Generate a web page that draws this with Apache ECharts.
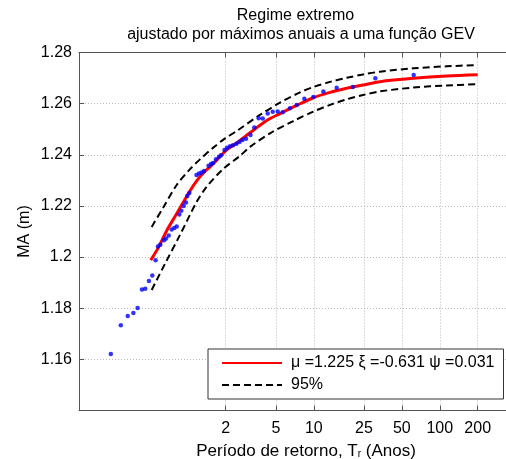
<!DOCTYPE html>
<html><head><meta charset="utf-8">
<script src="https://cdn.jsdelivr.net/npm/echarts@6/dist/echarts.min.js"></script>
<style>html,body{margin:0;padding:0;background:#fff}#c{width:506px;height:459px}</style>
</head><body><div id="c"></div>
<script>
// Observed annual maxima: return period T (years) and MA (m)
const obsT = [0.245,0.294,0.334,0.370,0.400,0.433,0.460,0.492,0.523,0.555,0.580,0.605,0.648,0.672,0.706,0.745,0.782,0.817,0.856,0.888,0.928,0.968,0.992,1.029,1.173,1.228,1.285,1.345,1.461,1.529,1.586,1.675,1.769,1.835,1.957,2.048,2.164,2.285,2.436,2.574,2.719,2.899,3.146,3.373,3.655,3.933,4.309,4.721,5.172,5.668,6.476,7.32,8.41,9.92,11.91,15.2,20.4,30.8,62.1];
const obsV = [1.1621,1.1733,1.1770,1.1781,1.1801,1.1873,1.1876,1.1906,1.1928,1.1988,1.2041,1.2048,1.2066,1.2073,1.2084,1.2108,1.2114,1.2120,1.2166,1.2181,1.2200,1.2213,1.2239,1.2251,1.2321,1.2327,1.2331,1.2337,1.2357,1.2364,1.2368,1.2383,1.2392,1.2398,1.2419,1.2428,1.2433,1.2437,1.2443,1.2450,1.2458,1.2463,1.2477,1.2507,1.2543,1.2542,1.2561,1.2568,1.2569,1.2566,1.2582,1.2595,1.2619,1.2626,1.2647,1.2662,1.2665,1.2699,1.2712];
// GEV fitted curve
const fitT = [0.508,0.584,0.680,0.792,0.916,1.042,1.184,1.329,1.501,1.697,2.037,2.298,2.598,3.118,4.232,5.396,7.32,9.92,13.45,18.25,24.6,33.5,61.7,113.5,200];
const fitV = [1.1988,1.2037,1.2103,1.2159,1.2212,1.2259,1.2300,1.2329,1.2353,1.2379,1.2419,1.2437,1.2456,1.2486,1.2534,1.2561,1.2593,1.2623,1.2644,1.2660,1.2673,1.2686,1.2699,1.2708,1.2713];
// 95% confidence bands
const upT = [0.517,0.639,0.817,1.042,1.250,1.594,1.975,2.445,3.743,5.396,7.778,9.92,13.45,18.25,24.6,33.5,61.7,113.5,200];
const upV = [1.2118,1.2194,1.2282,1.2344,1.2382,1.2428,1.2464,1.2493,1.2556,1.2604,1.2644,1.2665,1.2685,1.2701,1.2714,1.2725,1.2738,1.2746,1.2751];
const loT = [0.517,0.660,0.868,1.177,1.413,1.914,2.598,3.118,4.494,6.88,9.92,13.45,18.25,24.6,33.5,61.7,113.5,200];
const loV = [1.1871,1.1974,1.2087,1.2216,1.2275,1.2345,1.2396,1.2431,1.2484,1.2532,1.2569,1.2595,1.2617,1.2634,1.2648,1.2663,1.2671,1.2676];
const xTicks = [2,5,10,25,50,100,200];
const yTicks = [1.16,1.18,1.2,1.22,1.24,1.26,1.28];
const fitName = 'μ =1.225 ξ =-0.631 ψ =0.031';
const bandName = '95%';

const zip = (a,b) => a.map((v,i)=>[v,b[i]]);
const font = 'Liberation Sans, Arial, sans-serif';
const axisCol = '#555';
const gridLine = {show:true, lineStyle:{color:'#b8b8b8', type:[1,2], width:1}};
const xMin = 0.137, xMax = 335.4;
const chart = echarts.init(document.getElementById('c'), null, {renderer:'canvas'});
chart.setOption({
  animation:false,
  backgroundColor:'#fff',
  textStyle:{fontFamily:font},
  graphic:[
    {type:'text', x:295.5, y:16, style:{text:'Regime extremo', font:'16px '+font, fill:'#000', align:'center', verticalAlign:'middle'}},
    {type:'text', x:301, y:35, style:{text:'ajustado por máximos anuais a uma função GEV', font:'16px '+font, fill:'#000', align:'center', verticalAlign:'middle'}}
  ],
  grid:{left:79, right:0, top:52.5, bottom:48.5, containLabel:false, outerBoundsMode:'none'},
  legend:{
    orient:'vertical', left:208, top:349,
    data:[fitName, bandName],
    itemWidth:60, itemHeight:14, itemGap:6,
    padding:[6,9,6,13],
    backgroundColor:'#fff', borderColor:'#333', borderWidth:1,
    itemStyle:{opacity:0},
    textStyle:{fontSize:16, color:'#000', fontFamily:font, padding:[0,0,0,4]}
  },
  xAxis:[{
    type:'log', logBase:10, min:xMin, max:xMax, position:'bottom',
    name:'Período de retorno, T{s|r} (Anos)', nameLocation:'middle', nameGap:32,
    nameTextStyle:{fontSize:17, color:'#000', fontFamily:font, padding:[0,0,0,27], rich:{s:{fontSize:10, verticalAlign:'bottom', lineHeight:10}}},
    axisLine:{show:true, onZero:false, lineStyle:{color:axisCol, width:1}},
    axisTick:{show:true, inside:true, length:5, customValues:xTicks, lineStyle:{color:axisCol}},
    axisLabel:{show:true, customValues:xTicks, fontSize:16, color:'#000', margin:10, formatter:v=>String(v)},
    splitLine:gridLine, minorTick:{show:false}, minorSplitLine:{show:false}
  },{
    type:'log', logBase:10, min:xMin, max:xMax, position:'top',
    axisLine:{show:true, onZero:false, lineStyle:{color:axisCol, width:1}},
    axisTick:{show:true, inside:true, length:5, customValues:xTicks, lineStyle:{color:axisCol}},
    axisLabel:{show:false}, splitLine:{show:false}
  }],
  yAxis:{
    type:'value', min:1.14, max:1.28, interval:0.02,
    name:'MA (m)', nameLocation:'middle', nameGap:46, nameRotate:90, nameMoveOverlap:false,
    nameTextStyle:{fontSize:16, color:'#000', fontFamily:font},
    axisLine:{show:true, onZero:false, lineStyle:{color:axisCol, width:1}},
    axisTick:{show:true, inside:true, length:5, lineStyle:{color:axisCol}},
    axisLabel:{fontSize:16, color:'#000', margin:7, formatter:v=> yTicks.some(t=>Math.abs(t-v)<1e-6) ? String(+v.toFixed(2)) : ''},
    splitLine:gridLine
  },
  series:[
    {name:bandName, type:'line', data:zip(upT,upV), symbol:'none', smooth:0.3, lineStyle:{color:'#000', width:2, type:[7,4]}, itemStyle:{color:'#000'}, z:2},
    {name:bandName, type:'line', data:zip(loT,loV), symbol:'none', smooth:0.3, lineStyle:{color:'#000', width:2, type:[7,4]}, itemStyle:{color:'#000'}, z:2},
    {name:fitName, type:'line', data:zip(fitT,fitV), symbol:'none', smooth:0.3, lineStyle:{color:'#ff0000', width:3}, itemStyle:{color:'#ff0000'}, z:3},
    {name:'obs', type:'scatter', data:zip(obsT,obsV), symbol:'circle', symbolSize:4.5, itemStyle:{color:'#0000ff'}, z:4}
  ]
});
</script></body></html>
